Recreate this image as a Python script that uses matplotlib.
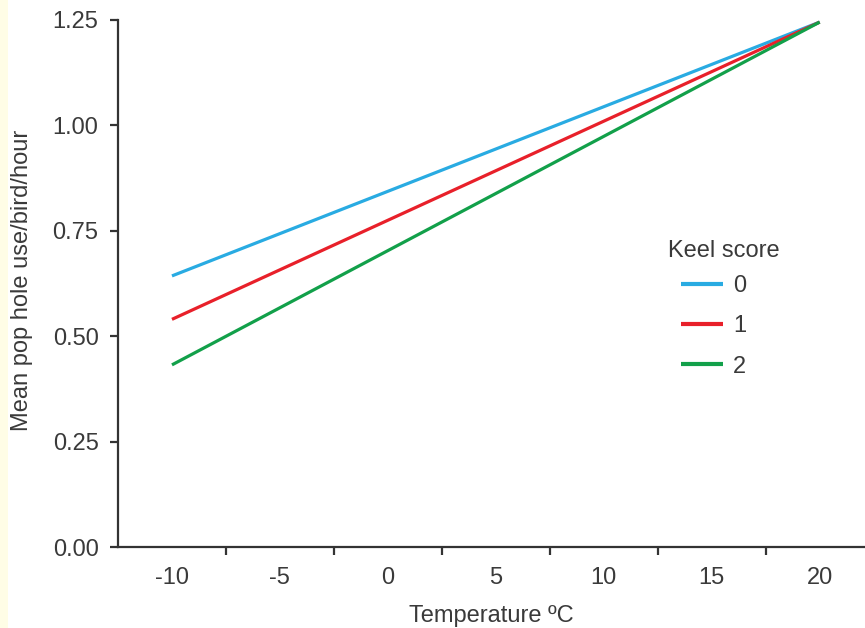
import matplotlib
matplotlib.use("Agg")
import matplotlib.pyplot as plt
from matplotlib.patches import Rectangle

# Data
temperature = [-10, 20]
keel_scores = ["0", "1", "2"]
series = {
    "0": [0.643, 1.245],
    "1": [0.540, 1.245],
    "2": [0.432, 1.245],
}
colors = {"0": "#29ABE2", "1": "#E8202A", "2": "#12A04A"}
x_tick_labels = [-10, -5, 0, 5, 10, 15, 20]
x_tick_marks = [-7.5, -2.5, 2.5, 7.5, 12.5, 17.5]
y_ticks = [0.00, 0.25, 0.50, 0.75, 1.00, 1.25]

plt.rcParams['font.family'] = ['Liberation Sans', 'DejaVu Sans']
text_color = "#3a3a3a"
fs = 17

fig = plt.figure(figsize=(8.65, 6.28), dpi=100)
fig.patches.append(Rectangle((0, 0), 8 / 865, 1, transform=fig.transFigure,
                             facecolor="#FFFDE6", edgecolor="none", zorder=0))
ax = fig.add_axes([118 / 865, 81 / 628, 1 - 118 / 865, (547 - 20) / 628])

for k in keel_scores:
    ax.plot(temperature, series[k], color=colors[k], lw=2.3, label=k,
            solid_capstyle="butt")

ax.set_xlim(-12.5, 22.1)
ax.set_ylim(0, 1.25)

ax.spines['top'].set_visible(False)
ax.spines['right'].set_visible(False)
for s in ['left', 'bottom']:
    ax.spines[s].set_linewidth(1.6)
    ax.spines[s].set_color("#333333")

ax.set_xticks(x_tick_labels)
ax.set_xticklabels([str(v) for v in x_tick_labels])
ax.set_xticks(x_tick_marks, minor=True)
ax.tick_params(axis='x', which='major', length=0, pad=14.5, labelsize=fs, colors=text_color)
ax.tick_params(axis='x', which='minor', length=6, width=1.6, color="#333333")
ax.set_yticks(y_ticks)
ax.set_yticklabels([f"{v:.2f}" for v in y_ticks])
ax.tick_params(axis='y', which='major', length=6, width=1.6, pad=8, labelsize=fs,
               colors=text_color)
ax.tick_params(axis='y', color="#333333")

ax.set_xlabel("Temperature ºC", fontsize=fs, color=text_color)
ax.set_ylabel("Mean pop hole use/bird/hour", fontsize=fs, color=text_color)
ax.xaxis.set_label_coords((491 - 118) / (865 - 118), -(605 - 547) / 527)
ax.yaxis.set_label_coords(-(118 - 33) / (865 - 118), (547 - 280) / 527)

# legend title as separate text, entries via legend
ax.text((724 - 118) / 747, (547 - 251) / 527, "Keel score", transform=ax.transAxes,
        ha="center", va="center", fontsize=fs, color=text_color)
leg = ax.legend(loc="upper left",
                bbox_to_anchor=((660 - 118) / 747, (547 - 254) / 527),
                frameon=False, fontsize=fs,
                handlelength=1.75, handletextpad=0.45, labelspacing=0.77)
for t in leg.get_texts():
    t.set_color(text_color)
for h in leg.get_lines():
    h.set_linewidth(3)

fig.savefig("out.png", dpi=100)
